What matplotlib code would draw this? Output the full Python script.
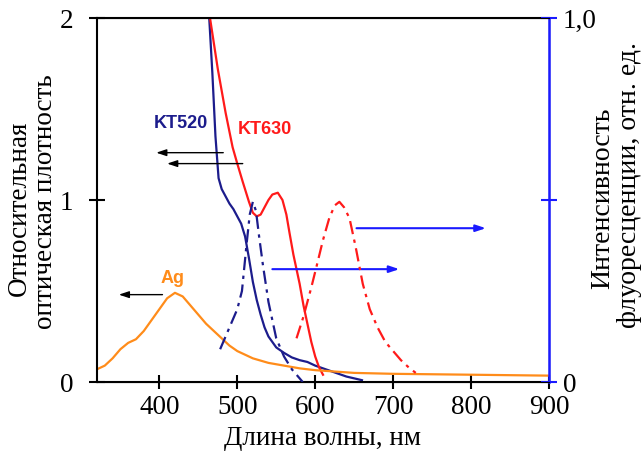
import numpy as np
import matplotlib.pyplot as plt

# ---- данные ----
# поглощение, левая ось
kt520_wl = [464, 468, 472, 476, 480, 485, 490, 495, 500, 505, 510, 515, 520, 525,
            530, 535, 540, 550, 560, 570, 580, 590, 600, 610, 620, 630, 640, 650, 660]
kt520_abs = [2.0, 1.7, 1.35, 1.12, 1.06, 1.02, 0.98, 0.95, 0.91, 0.87, 0.80, 0.68, 0.55, 0.45,
             0.37, 0.30, 0.25, 0.19, 0.16, 0.135, 0.12, 0.11, 0.09, 0.075, 0.06, 0.045, 0.03, 0.02, 0.01]

kt630_wl = [465, 475, 485, 494, 500, 507, 515, 520, 525, 530, 535, 540, 545, 552,
            558, 563, 567, 572, 576, 580, 585, 590, 595, 600, 605, 610]
kt630_abs = [2.0, 1.72, 1.48, 1.29, 1.2, 1.1, 0.99, 0.93, 0.91, 0.92, 0.96, 1.0, 1.03, 1.04,
             1.0, 0.92, 0.82, 0.7, 0.62, 0.54, 0.42, 0.32, 0.22, 0.14, 0.08, 0.04]

ag_wl = [320, 330, 340, 350, 360, 370, 380, 390, 400, 410, 420, 430, 440, 450, 460,
         470, 480, 490, 500, 520, 540, 560, 580, 600, 650, 700, 800, 900]
ag_abs = [0.07, 0.09, 0.13, 0.18, 0.215, 0.235, 0.28, 0.34, 0.40, 0.46, 0.49, 0.47, 0.42,
          0.37, 0.32, 0.28, 0.24, 0.20, 0.17, 0.13, 0.105, 0.09, 0.075, 0.065, 0.05, 0.045, 0.04, 0.035]

# флуоресценция, правая ось
fl520_wl = [478, 490, 500, 506, 512, 516, 520, 524, 528, 533, 540, 550, 560, 570, 584]
fl520 = [0.09, 0.15, 0.20, 0.25, 0.38, 0.46, 0.495, 0.47, 0.40, 0.32, 0.22, 0.12, 0.07, 0.035, 0.0]

fl630_wl = [576, 585, 595, 602, 610, 618, 625, 631, 637, 644, 652, 661, 670, 680, 690,
            700, 710, 720, 729]
fl630 = [0.12, 0.18, 0.26, 0.32, 0.39, 0.45, 0.485, 0.495, 0.48, 0.45, 0.37, 0.27, 0.2,
         0.15, 0.11, 0.085, 0.06, 0.04, 0.025]

xticks = [400, 500, 600, 700, 800, 900]

navy = '#1c1c8c'
red = '#ff1a1a'
orange = '#ff8c1a'
blue = '#1a1aff'
serif = 'Liberation Serif'
sans = 'Liberation Sans'

W, H = 643, 451
fig = plt.figure(figsize=(W/100, H/100), dpi=100)
ax = fig.add_axes([97/W, 69/H, 452/W, 364/H])
ax2 = ax.twinx()

ax.plot(kt520_wl, kt520_abs, color=navy, lw=1.6)
ax.plot(kt630_wl, kt630_abs, color=red, lw=1.6)
ax.plot(ag_wl, ag_abs, color=orange, lw=1.6)
ax2.plot(fl520_wl, fl520, color=navy, lw=1.6, ls=(0, (6, 2.5, 1.5, 2.5)))
ax2.plot(fl630_wl, fl630, color=red, lw=1.6, ls=(0, (6, 2.5, 1.5, 2.5)))

ax.set_xlim(320, 900)
ax.set_ylim(0, 2)
ax2.set_ylim(0, 1)

ax.set_xticks(xticks)
ax.set_yticks([0, 1, 2])
ax2.set_yticks([0, 0.5, 1])
ax2.set_yticklabels(['0', '', '1,0'])

for a in (ax, ax2):
    for lab in a.get_xticklabels() + a.get_yticklabels():
        lab.set_family(serif)
        lab.set_fontsize(19.5)

ax.tick_params(axis='both', direction='inout', length=12, width=1.5)
ax.tick_params(axis='x', length=10, pad=4)
ax.tick_params(axis='y', pad=11)
ax2.tick_params(axis='y', direction='inout', length=12, width=1.5, color=blue, pad=4)

for s in ['left', 'bottom', 'top']:
    ax.spines[s].set_linewidth(1.5)
ax2.spines['right'].set_color(blue)
ax2.spines['right'].set_linewidth(1.8)
ax2.spines['left'].set_visible(False)

ax.set_xlabel('Длина волны, нм', family=serif, fontsize=19.5, labelpad=5)

# подписи осей (по строкам)
fig.text(19/W, 1 - 208/H, 'Относительная', family=serif, fontsize=19.5,
         rotation=90, ha='center', va='center')
fig.text(46/W, 1 - 202/H, 'оптическая плотность', family=serif, fontsize=19.5,
         rotation=90, ha='center', va='center')
fig.text(603/W, 1 - 198/H, 'Интенсивность', family=serif, fontsize=20,
         rotation=90, ha='center', va='center')
fig.text(629/W, 1 - 185/H, 'флуоресценции, отн. ед.', family=serif, fontsize=20,
         rotation=90, ha='center', va='center')

# подписи кривых
ax.text(427, 1.42, 'KT520', color=navy, family=sans, weight='bold', fontsize=13,
        ha='center', va='center')
ax.text(535, 1.39, 'KT630', color=red, family=sans, weight='bold', fontsize=13,
        ha='center', va='center')
ax.text(417, 0.57, 'Ag', color=orange, family=sans, weight='bold', fontsize=13,
        ha='center', va='center')

# стрелки
black_arrow = dict(arrowstyle='-|>,head_length=0.6,head_width=0.2', color='k', lw=1.0,
                   shrinkA=0, shrinkB=0)
blue_arrow = dict(arrowstyle='-|>,head_length=0.6,head_width=0.2', color=blue, lw=1.5,
                  shrinkA=0, shrinkB=0)
ax.annotate('', xy=(396, 1.26), xytext=(482, 1.26), arrowprops=black_arrow)
ax.annotate('', xy=(410, 1.2), xytext=(507, 1.2), arrowprops=black_arrow)
ax.annotate('', xy=(348, 0.48), xytext=(404, 0.48), arrowprops=black_arrow)
ax.annotate('', xy=(819, 0.845), xytext=(653, 0.845), arrowprops=blue_arrow)
ax.annotate('', xy=(708, 0.62), xytext=(545, 0.62), arrowprops=blue_arrow)

plt.savefig('out.png', dpi=100)
